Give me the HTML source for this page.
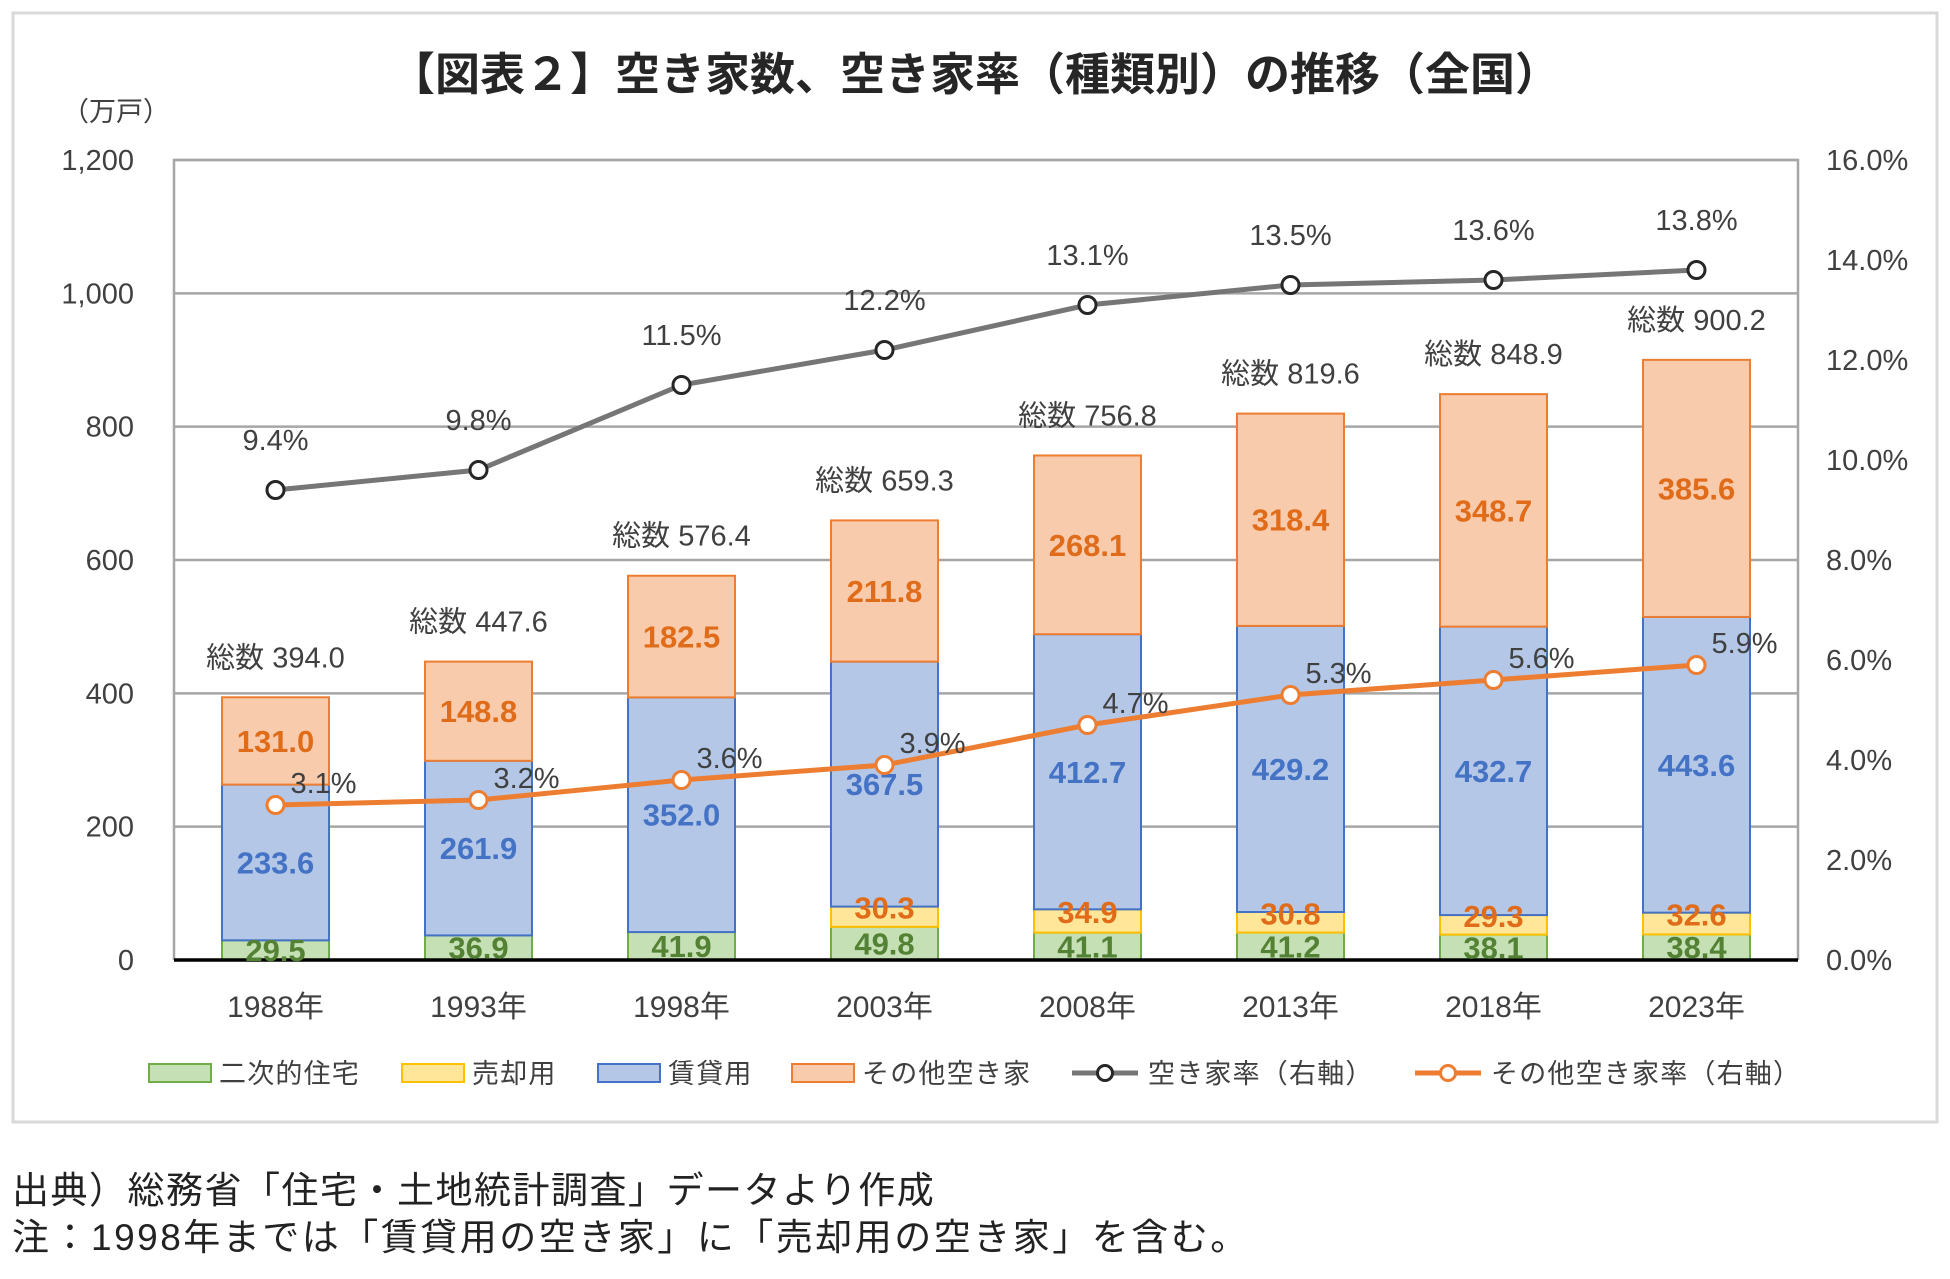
<!DOCTYPE html>
<html><head><meta charset="utf-8">
<style>
html,body{margin:0;padding:0;background:#fff;}
svg{display:block;font-family:"Liberation Sans","Noto Sans CJK JP",sans-serif;}
</style></head>
<body>
<svg id="chart" width="1950" height="1279" viewBox="0 0 1950 1279">
<rect x="13" y="13" width="1924" height="1109" fill="#fff" stroke="#d9d9d9" stroke-width="3"/>
<text x="975" y="90" text-anchor="middle" font-size="45" font-weight="bold" fill="#262626">【図表２】空き家数、空き家率（種類別）の推移（全国）</text>
<text x="62" y="121" font-size="27" fill="#404040">（万戸）</text>
<g id="grid"></g>
<g id="bars"></g>
<g id="lines"></g>
<g id="legend"></g>
<text x="12" y="1203" font-size="37" letter-spacing="1.5" fill="#222">出典）総務省「住宅・土地統計調査」データより作成</text>
<text x="12" y="1250" font-size="37" letter-spacing="2.5" fill="#222">注：1998年までは「賃貸用の空き家」に「売却用の空き家」を含む。</text>
</svg>
<script>
const categories=["1988年","1993年","1998年","2003年","2008年","2013年","2018年","2023年"];
const secondHome=[29.5,36.9,41.9,49.8,41.1,41.2,38.1,38.4];
const forSale=[0,0,0,30.3,34.9,30.8,29.3,32.6];
const rental=[233.6,261.9,352.0,367.5,412.7,429.2,432.7,443.6];
const other=[131.0,148.8,182.5,211.8,268.1,318.4,348.7,385.6];
const totals=["394.0","447.6","576.4","659.3","756.8","819.6","848.9","900.2"];
const vacancyRate=[9.4,9.8,11.5,12.2,13.1,13.5,13.6,13.8];
const otherRate=[3.1,3.2,3.6,3.9,4.7,5.3,5.6,5.9];
const leftTicks=[0,200,400,600,800,1000,1200];
const rightTicks=[0,2,4,6,8,10,12,14,16];

const NS="http://www.w3.org/2000/svg";
const L=174,R=1798,T=160,B=960;
const band=(R-L)/categories.length, bw=107;
const y=v=>B-(v/1200)*(B-T);
const y2=v=>B-(v/16)*(B-T);
const cx=i=>L+band*(i+0.5);
function mk(tag,attrs,parent,text){const e=document.createElementNS(NS,tag);for(const k in attrs)e.setAttribute(k,attrs[k]);if(text!==undefined)e.textContent=text;parent.appendChild(e);return e;}
const grid=document.getElementById('grid'),bars=document.getElementById('bars'),lines=document.getElementById('lines'),legend=document.getElementById('legend');

leftTicks.forEach(v=>{
  if(v>0){const g=mk('line',{x1:L,x2:R,y1:y(v),y2:y(v),stroke:'#a6a6a6','stroke-width':2.5},grid);
  
  }
  const t=mk('text',{x:134,y:y(v)+10,'text-anchor':'end','font-size':29,fill:'#404040'},grid,v.toLocaleString('en-US'));
  
  
});
rightTicks.forEach(v=>{
  const t=mk('text',{x:1826,y:y2(v)+10,'font-size':29,fill:'#404040'},grid,v.toFixed(1)+'%');
  
  
});
const fr=mk('path',{d:`M${L},${B} V${T} H${R} V${B}`,fill:'none',stroke:'#a6a6a6','stroke-width':2.5},grid);



const series=[
 {d:secondHome,fill:'#c5e0b4',stroke:'#70ad47',tc:'#548235',name:'second-home'},
 {d:forSale,fill:'#ffe699',stroke:'#ffc000',tc:'#e06c1a',name:'for-sale'},
 {d:rental,fill:'#b4c7e7',stroke:'#4472c4',tc:'#4472c4',name:'rental'},
 {d:other,fill:'#f8cbad',stroke:'#ed7d31',tc:'#e06c1a',name:'other-vacant'}];
const labelQueue=[];
categories.forEach((c,i)=>{
  let base=0;
  series.forEach(s=>{
    const v=s.d[i]; if(!v)return;
    const r=mk('rect',{x:cx(i)-bw/2,y:y(base+v),width:bw,height:y(base)-y(base+v),fill:s.fill,stroke:s.stroke,'stroke-width':2},bars);
    
    
    const mid=(y(base)+y(base+v))/2;
    const off=s.name==='for-sale'?2:11;
    labelQueue.push({x:cx(i),y:mid+off,c:s.tc,t:v.toFixed(1),n:s.name});
    base+=v;
  });
  const tt=mk('text',{x:cx(i),y:y(base)-30,'text-anchor':'middle','font-size':29,fill:'#404040'},bars,'総数 '+totals[i]);
  
  
  const xl=mk('text',{x:cx(i),y:1017,'text-anchor':'middle','font-size':30,fill:'#404040'},bars,c);
  
  
});
const base0=mk('line',{x1:L,x2:R,y1:B,y2:B,stroke:'#000','stroke-width':3.5},bars);


labelQueue.forEach(q=>{
  const t=mk('text',{x:q.x,y:q.y,'text-anchor':'middle','font-size':31,'font-weight':'bold',fill:q.c},bars,q.t);
  
  
});

function drawLine(arr,color,mstroke,name,dx,dy){
  const p=mk('polyline',{points:arr.map((v,i)=>cx(i)+','+y2(v)).join(' '),fill:'none',stroke:color,'stroke-width':5},lines);
  
  
  arr.forEach((v,i)=>{
    const m=mk('circle',{cx:cx(i),cy:y2(v),r:8.5,fill:'#fff',stroke:mstroke,'stroke-width':3},lines);
    
    
    const t=mk('text',{x:cx(i)+dx,y:y2(v)+dy,'text-anchor':'middle','font-size':29,fill:'#404040'},lines,v.toFixed(1)+'%');
    
    
  });
}
drawLine(vacancyRate,'#767676','#262626','vacancy-rate',0,-40);
drawLine(otherRate,'#ed7d31','#ed7d31','other-rate',48,-12);

const items=[
 {x:149,type:'box',fill:'#c5e0b4',stroke:'#70ad47',label:'二次的住宅',name:'legend-second-home'},
 {x:402,type:'box',fill:'#ffe699',stroke:'#ffc000',label:'売却用',name:'legend-for-sale'},
 {x:598,type:'box',fill:'#b4c7e7',stroke:'#4472c4',label:'賃貸用',name:'legend-rental'},
 {x:792,type:'box',fill:'#f8cbad',stroke:'#ed7d31',label:'その他空き家',name:'legend-other-vacant'},
 {x:1072,type:'line',fill:'#767676',stroke:'#262626',label:'空き家率（右軸）',name:'legend-vacancy-rate'},
 {x:1415,type:'line',fill:'#ed7d31',stroke:'#ed7d31',label:'その他空き家率（右軸）',name:'legend-other-rate'}];
const ly=1073;
items.forEach(it=>{
  const g=mk('g',{},legend);
  
  
  if(it.type==='box'){mk('rect',{x:it.x,y:ly-9,width:62,height:18,fill:it.fill,stroke:it.stroke,'stroke-width':2},g);}
  else{mk('line',{x1:it.x,x2:it.x+66,y1:ly,y2:ly,stroke:it.fill,'stroke-width':5},g);
       mk('circle',{cx:it.x+33,cy:ly,r:7.5,fill:'#fff',stroke:it.stroke,'stroke-width':3},g);}
  mk('text',{x:it.x+(it.type==='box'?70:76),y:ly+10,'font-size':27,'letter-spacing':1.2,fill:'#404040'},g,it.label);
});
</script>
</body></html>
